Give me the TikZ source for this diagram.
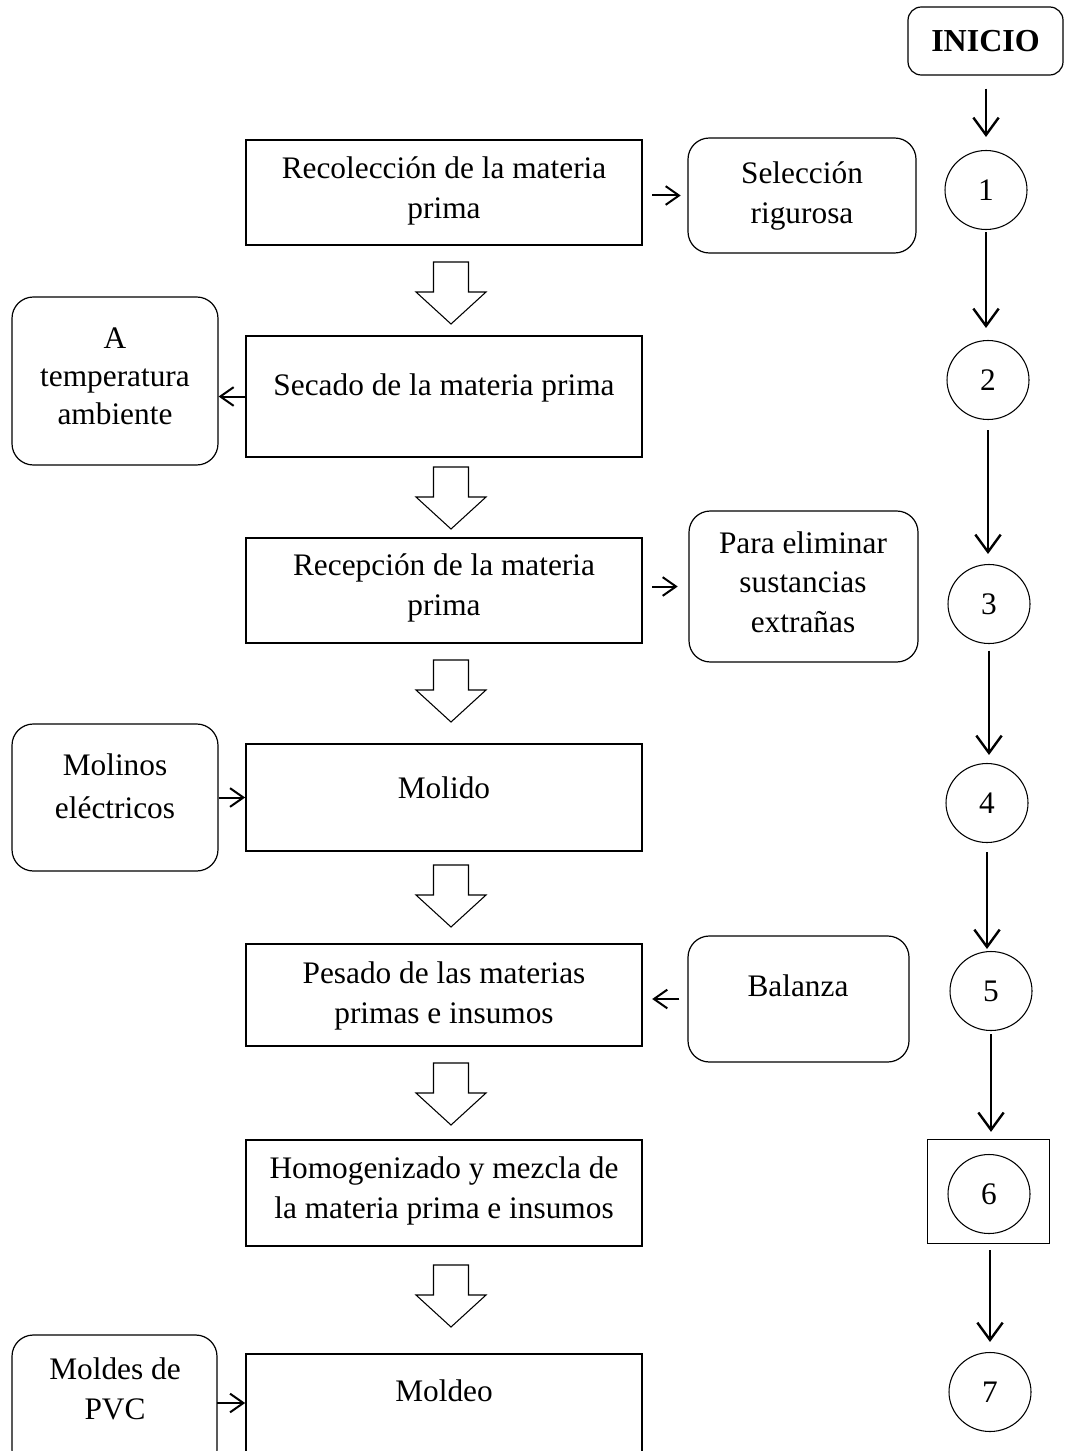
\documentclass[tikz,border=0pt]{standalone}
\usepackage{fontspec}
\setmainfont{Liberation Serif}
\usetikzlibrary{arrows.meta,shapes.geometric}
\def\pxu{0.75pt}
\newcommand\pxbox[6]{\node[#1, minimum width={(#4-#3)*0.75pt}, minimum height={(#6-#5)*0.75pt}] (#2) at ({(#3+#4)/2},{(#5+#6)/2}) {};}
\newcommand\blockarr[2]{\draw[blockstyle] ({#1-17.5},{#2}) -- ({#1+17.5},{#2}) -- ({#1+17.5},{#2+30}) -- ({#1+35},{#2+30}) -- ({#1},{#2+62}) -- ({#1-35},{#2+30}) -- ({#1-17.5},{#2+30}) -- cycle;}
\tikzset{
  mainbox/.style={draw, line width=1.3pt, inner sep=0pt},
  sidebox/.style={draw, line width=0.9pt, rounded corners=16pt, inner sep=0pt},
  inibox/.style={draw, line width=0.9pt, rounded corners=10pt, inner sep=0pt},
  sqbox/.style={draw, line width=0.7pt, inner sep=0pt},
  txt/.style={align=center, inner sep=0pt, font=\fontsize{23.5}{30}\selectfont},
  circ/.style={ellipse, draw, line width=0.8pt, inner sep=0pt, minimum width=82*0.75pt, minimum height=79*0.75pt, font=\fontsize{23.5}{30}\selectfont},
  arr/.style={-{Straight Barb[length=13pt,width=19pt]}, line width=1.8pt},
  sarr/.style={-{Straight Barb[length=10pt,width=14pt]}, line width=1.5pt},
  blockstyle/.style={draw, line width=0.8pt, fill=white, line join=miter}
}
\begin{document}
\begin{tikzpicture}[x=0.75pt,y=-0.75pt]
\useasboundingbox (0,0) rectangle (1064,1451);
\fill[white] (0,0) rectangle (1064,1451);
\clip (0,0) rectangle (1064,1451);

% main boxes
\pxbox{mainbox}{b1}{246}{642}{140}{245}
\pxbox{mainbox}{b2}{246}{642}{336}{457}
\pxbox{mainbox}{b3}{246}{642}{538}{643}
\pxbox{mainbox}{b4}{246}{642}{744}{851}
\pxbox{mainbox}{b5}{246}{642}{944}{1046}
\pxbox{mainbox}{b6}{246}{642}{1140}{1246}
\pxbox{mainbox}{b7}{246}{642}{1354}{1490}

% side boxes
\pxbox{sidebox}{s1}{688}{916}{138}{253}
\pxbox{sidebox}{s2}{12}{218}{297}{465}
\pxbox{sidebox}{s3}{689}{918}{511}{662}
\pxbox{sidebox}{s4}{12}{218}{724}{871}
\pxbox{sidebox}{s5}{688}{909}{936}{1062}
\pxbox{sidebox}{s7}{12}{217}{1335}{1471}

% texts
\node[txt] (t1) at (444,191) {Recolección de la materia\\prima};
\node[txt] (t2) at (444,388) {Secado de la materia prima};
\node[txt] (t3) at (444,588) {Recepción de la materia\\prima};
\node[txt] (t4) at (444,788) {Molido};
\node[txt] (t5) at (444,996) {Pesado de las materias\\primas e insumos};
\node[txt] (t6) at (444,1191) {Homogenizado y mezcla de\\la materia prima e insumos};
\node[txt] (t7) at (444,1391) {Moldeo};
\node[txt] (ts1) at (802,196) {Selección\\rigurosa};
\node[txt, font=\fontsize{23.5}{28.5}\selectfont] (ts2) at (115,376) {A\\temperatura\\ambiente};
\node[txt, font=\fontsize{23.5}{29.5}\selectfont] (ts3) at (803,582) {Para eliminar\\sustancias\\extrañas};
\node[txt, font=\fontsize{23.5}{32}\selectfont] (ts4) at (115,786) {Molinos\\eléctricos};
\node[txt] (ts5) at (798,986) {Balanza};
\node[txt] (ts7) at (115,1389) {Moldes de\\PVC};

% block arrows
\blockarr{451}{262}
\blockarr{451}{467}
\blockarr{451}{660}
\blockarr{451}{865}
\blockarr{451}{1063}
\blockarr{451}{1265}

% side arrows
\draw[sarr, shorten <=7pt, shorten >=5pt] (b1.east |- s1.west) -- (s1.west);
\draw[sarr] (b2.west) -- (b2.west -| s2.east);
\draw[sarr, shorten <=7pt, shorten >=8pt] (b3.east |- s3.west) -- (s3.west);
\draw[sarr] (s4.east) -- (s4.east -| b4.west);
\draw[sarr, shorten <=6pt, shorten >=7pt] (s5.west) -- (s5.west -| b5.east);
\coordinate (m7) at (217,1403);
\draw[sarr] (m7) -- (m7 -| b7.west);

% right column
\pxbox{inibox}{ini}{908}{1063}{7}{75}
\node[txt, font=\fontsize{24}{30}\selectfont\bfseries] (tini) at (ini) {INICIO};
\node[circ] (c1) at (986,190) {1};
\node[circ] (c2) at (988,380) {2};
\node[circ] (c3) at (989,604) {3};
\node[circ] (c4) at (987,803) {4};
\node[circ] (c5) at (991,991) {5};
\pxbox{sqbox}{sq6}{927}{1049}{1139}{1243}
\node[circ] (c6) at (989,1194) {6};
\node[circ] (c7) at (990,1392) {7};

\draw[arr, shorten <=9.75pt, shorten >=9.75pt] (ini.south -| c1.north) -- (c1.north);
\draw[arr, shorten <=1.5pt, shorten >=9pt] (c1.south) -- (c1.south |- c2.north);
\draw[arr, shorten <=7.5pt, shorten >=7.5pt] (c2.south) -- (c2.south |- c3.north);
\draw[arr, shorten <=5pt, shorten >=6pt] (c3.south) -- (c3.south |- c4.north);
\draw[arr, shorten <=7pt, shorten >=1.5pt] (c4.south) -- (c4.south |- c5.north);
\draw[arr, shorten <=2.5pt, shorten >=5pt] (c5.south) -- (c5.south |- sq6.north);
\draw[arr, shorten <=5pt, shorten >=7.5pt] (sq6.south -| c7.north) -- (c7.north);
\end{tikzpicture}
\end{document}
